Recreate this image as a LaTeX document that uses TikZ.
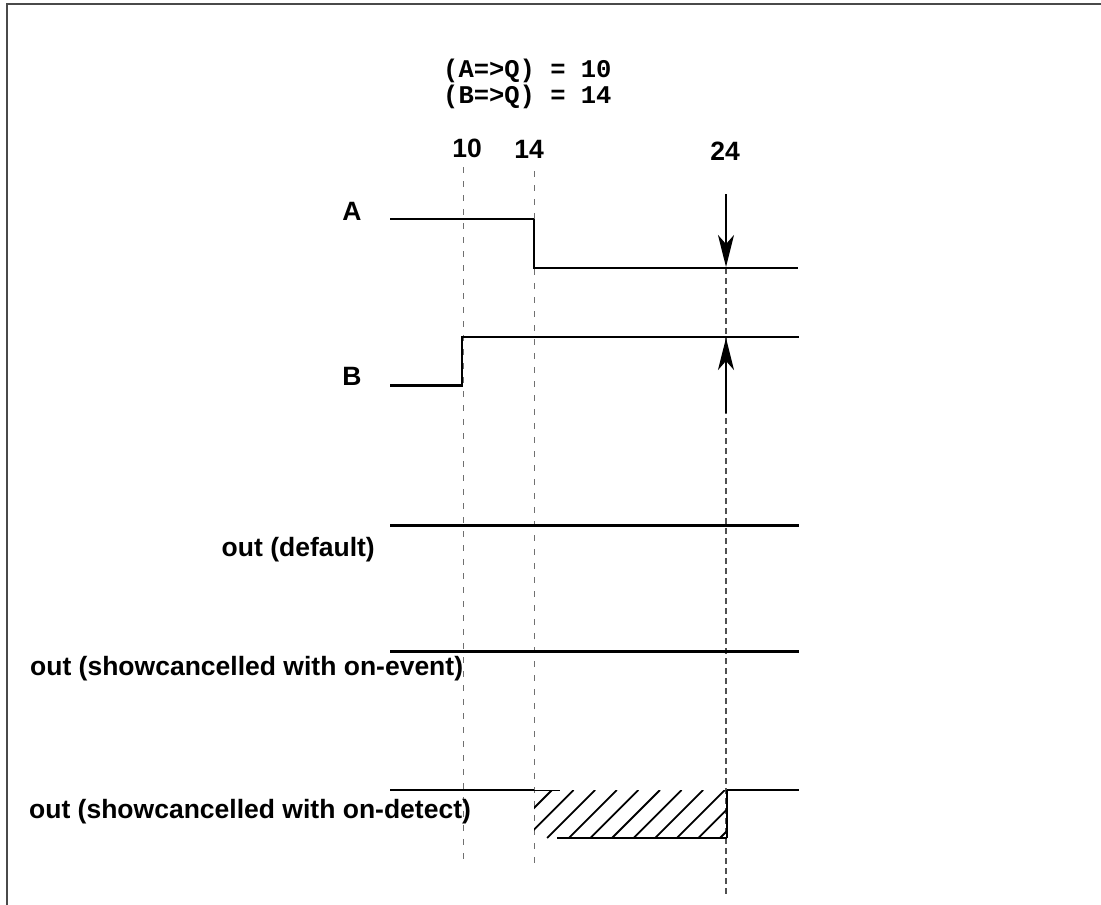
\documentclass[tikz,border=0pt]{standalone}
\usepackage{fontspec}
\setmainfont{Liberation Sans}
\newfontfamily\monofont{Liberation Mono}
\usetikzlibrary{arrows.meta}
\definecolor{framegray}{HTML}{4A4A4A}
\definecolor{dashgray}{HTML}{707070}
\definecolor{dashdark}{HTML}{505050}
\tikzset{
  lbl/.style={font=\fontsize{26.5}{30}\selectfont\bfseries, inner sep=0pt},
  mono/.style={font=\fontsize{25.5}{28}\selectfont\monofont\bfseries, inner sep=0pt},
  thinsig/.style={line width=1.1pt, black},
  sig/.style={line width=2.3pt, black},
  guide/.style={dashgray, line width=0.9pt, dash pattern=on 6pt off 8pt},
  guidebold/.style={dashdark, line width=2.2pt, dash pattern=on 6pt off 4pt},
  marker/.style={line width=2.2pt, black, -{Stealth[length=32pt,width=16pt,inset=9pt]}},
  hatch/.style={line width=1.8pt, black}
}
\begin{document}
\begin{tikzpicture}[x=1pt,y=-1pt]
\useasboundingbox (0,0) rectangle (1101,905);
% frame
\draw[framegray, line width=2.2pt] (7,905) -- (7,4) -- (1101,4);

% header text
\node[mono, anchor=base west] (hA) at (443,77) {(A=>Q) = 10};
\node[mono, anchor=base west] (hB) at (443,103) {(B=>Q) = 14};

% time labels
\node[lbl, anchor=base] (t10) at (467,157) {10};
\node[lbl, anchor=base] (t14) at (529,158) {14};
\node[lbl, anchor=base] (t24) at (725,160) {24};

% guide coordinates
\coordinate (g10top) at (463,167);
\coordinate (g10bot) at (463,863);
\coordinate (g14top) at (534,171);
\coordinate (g14bot) at (534,867);
\coordinate (g24top) at (726,268);
\coordinate (g24bot) at (726,895);
\draw[guide] (g10top) -- (g10bot);
\draw[guide] (g14top) -- (g14bot);
\draw[guidebold] (g24top) -- (g24bot);

% signal labels
\node[lbl, anchor=base] (lA) at (352,220) {A};
\node[lbl, anchor=base] (lB) at (352,385) {B};
\node[lbl, anchor=base east] (lD) at (375,556) {out (default)};
\node[lbl, anchor=base west] (lE) at (30,675) {out (showcancelled with on-event)};
\node[lbl, anchor=base west] (lF) at (29,818) {out (showcancelled with on-detect)};

% signal A
\draw[thinsig] (390,219) -- (534,219);
\draw[line width=2.2pt] (534,219) -- (534,268);
\draw[line width=1.5pt] (533,268) -- (798,268);

% signal B
\draw[sig] (390,385.5) -- (462,385.5) -- (462,337) -- (799,337);

% markers at 24
\coordinate (mAtop) at (726,194);
\coordinate (mAtip) at (726,267);
\coordinate (mBbot) at (726,413);
\coordinate (mBtip) at (726,338);
\draw[marker] (mAtop) -- (mAtip);
\draw[marker] (mBbot) -- (mBtip);

% out (default)
\draw[sig] (390,525.5) -- (799,525.5);
% out (on-event)
\draw[sig] (390,651.5) -- (799,651.5);
% out (on-detect)
\draw[sig] (390,790) -- (534,790);
\draw[sig] (727,790) -- (799,790);
\begin{scope}
  \clip (534,790) rectangle (727,838);
  \foreach \xt in {552,573.6,595.2,616.8,638.4,660,681.6,703.2,724.8,746.4,768,789.6} {
    \draw[hatch] (\xt,790) -- ({\xt-48},838);
  }
\end{scope}
\draw[line width=1pt] (534,790) -- (560,790);
\draw[line width=1.3pt] (557,838) -- (727,838);
\draw[line width=1.6pt] (727,790) -- (727,838);
\end{tikzpicture}
\end{document}
